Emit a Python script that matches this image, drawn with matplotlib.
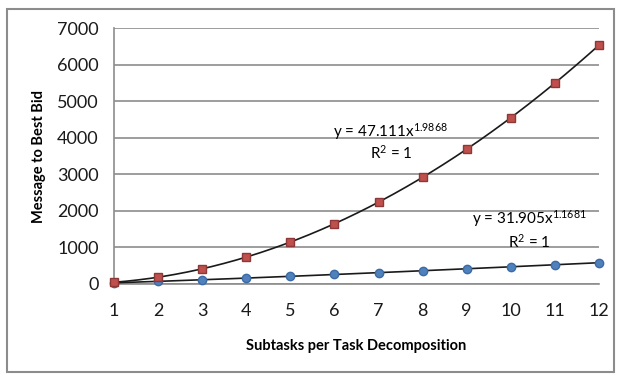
import matplotlib.pyplot as plt
import numpy as np
from matplotlib.patches import Rectangle

# Data
subtasks = [1, 2, 3, 4, 5, 6, 7, 8, 9, 10, 11, 12]
red_msgs = [47, 185, 415, 735, 1150, 1650, 2240, 2920, 3690, 4550, 5490, 6530]
blue_msgs = [32, 72, 115, 162, 210, 260, 310, 365, 415, 470, 525, 580]
yticks = [0, 1000, 2000, 3000, 4000, 5000, 6000, 7000]

plt.rcParams['font.family'] = ['Lato', 'DejaVu Sans']
plt.rcParams['mathtext.fontset'] = 'custom'
plt.rcParams['mathtext.rm'] = 'Lato'
plt.rcParams['mathtext.it'] = 'Lato'

fig = plt.figure(figsize=(6.21, 3.77), dpi=100)
ax = fig.add_axes([0.1836, 0.2467, 0.781, 0.679])

# outer chart frame
fig.patches.append(Rectangle((0.011, 0.012), 0.978, 0.965, transform=fig.transFigure,
                             fill=False, edgecolor='#8c8c8c', linewidth=1.5))

x = np.array(subtasks)
xs = np.linspace(1, 12, 200)

# power-law trendlines fitted in log space
for vals in (red_msgs, blue_msgs):
    b, loga = np.polyfit(np.log(x), np.log(vals), 1)
    ax.plot(xs, np.exp(loga) * xs ** b, color='#1a1a1a', linewidth=1.2, zorder=3, clip_on=False)

ax.plot(subtasks, blue_msgs, 'o', color='#4F81BD', markeredgecolor='#3d6aa3',
        markersize=6, zorder=4, clip_on=False)
ax.plot(subtasks, red_msgs, 's', color='#C0504D', markeredgecolor='#8c3836',
        markersize=6, zorder=4, clip_on=False)

ax.set_xlim(1, 12)
ax.set_ylim(0, 7000)
ax.set_xticks(subtasks)
ax.set_yticks(yticks)
ax.yaxis.grid(True, color='#8c8c8c', linewidth=1.2)
ax.set_axisbelow(True)
for s in ['top', 'right']:
    ax.spines[s].set_visible(False)
for s in ['left', 'bottom']:
    ax.spines[s].set_color('#8c8c8c')
    ax.spines[s].set_linewidth(1.2)
ax.tick_params(length=0, labelsize=13, colors='#1a1a1a')
ax.tick_params(axis='x', pad=14)
ax.tick_params(axis='y', pad=11)

ax.set_xlabel('Subtasks per Task Decomposition', fontsize=10.5, fontweight='bold', labelpad=14)
ax.set_ylabel('Message to Best Bid', fontsize=10.5, fontweight='bold', labelpad=8)

ax.text(7.27, 4180, 'y = 47.111x$^{1.9868}$', fontsize=11, ha='center', va='center')
ax.text(7.3, 3580, 'R$^{2}$ = 1', fontsize=11, ha='center', va='center')
ax.text(10.42, 1800, 'y = 31.905x$^{1.1681}$', fontsize=11, ha='center', va='center')
ax.text(10.42, 1150, 'R$^{2}$ = 1', fontsize=11, ha='center', va='center')

fig.savefig('out.png', dpi=100)
